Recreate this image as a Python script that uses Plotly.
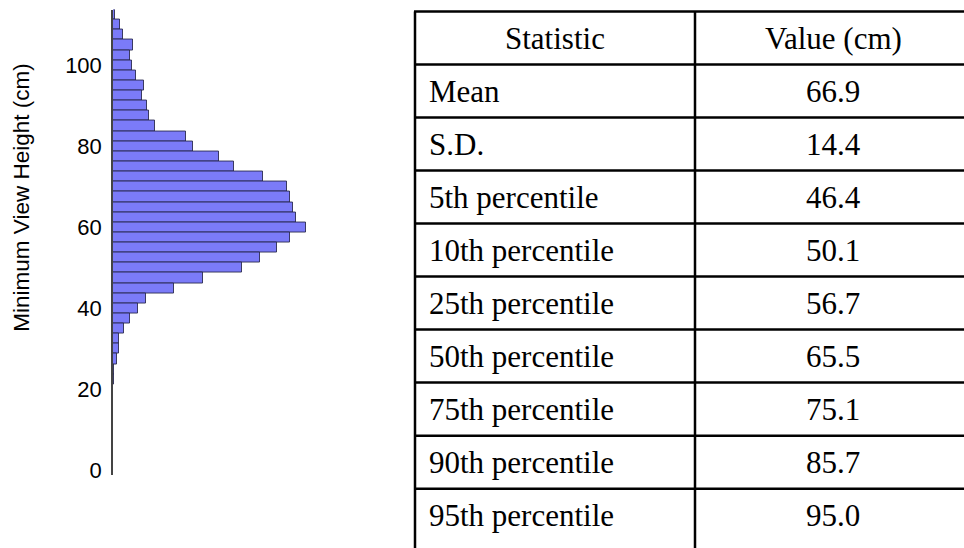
import plotly.graph_objects as go

# Histogram data (bins of 2.5 cm, centres) and bar lengths (relative counts)
bin_centers = [112.5, 110.0, 107.5, 105.0, 102.5, 100.0, 97.5, 95.0, 92.5, 90.0,
               87.5, 85.0, 82.5, 80.0, 77.5, 75.0, 72.5, 70.0, 67.5, 65.0,
               62.5, 60.0, 57.5, 55.0, 52.5, 50.0, 47.5, 45.0, 42.5, 40.0,
               37.5, 35.0, 32.5, 30.0, 27.5, 25.0, 22.5]
counts = [1.7, 7, 10, 20, 17.3, 19.3, 23.3, 31, 29, 34,
          36, 42.3, 73, 80, 106, 121, 150, 174, 176.7, 180,
          183.3, 192.7, 176.7, 164, 147.3, 129, 90.3, 60.7, 33, 25.3,
          17, 11, 6, 6, 4.3, 1, 1]
y_ticks = [0, 20, 40, 60, 80, 100]
y_title = "Minimum View Height (cm)"

# Summary table
table_header = ["Statistic", "Value (cm)"]
stat_names = ["Mean", "S.D.", "5th percentile", "10th percentile", "25th percentile",
              "50th percentile", "75th percentile", "90th percentile", "95th percentile"]
stat_values = ["66.9", "14.4", "46.4", "50.1", "56.7", "65.5", "75.1", "85.7", "95.0"]

W, H = 964, 548

fig = go.Figure()
fig.add_trace(go.Bar(
    y=bin_centers, x=counts, orientation="h", width=2.5,
    marker=dict(color="#7b7bf8", line=dict(color="rgba(35,35,70,0.85)", width=1)),
    hoverinfo="x+y", showlegend=False,
))

fig.update_layout(
    width=W, height=H,
    margin=dict(l=0, r=0, t=0, b=0),
    paper_bgcolor="white", plot_bgcolor="white",
    bargap=0,
    xaxis=dict(domain=[113 / W, 313 / W], range=[0, 200], visible=False),
    yaxis=dict(domain=[1 - 482.5 / H, 1 - 9.7 / H], range=[-1, 113.75],
               tickvals=y_ticks, ticks="", showgrid=False, zeroline=False,
               showline=True, linecolor="#444444", linewidth=1.5,
               ticklabelstandoff=5,
               tickfont=dict(family="Liberation Sans, Arial", size=22, color="black")),
    font=dict(family="Liberation Sans, Arial"),
)

# Axis title
fig.add_annotation(x=22 / W, y=1 - 201 / H, xref="paper", yref="paper",
                   text=y_title, textangle=-90, showarrow=False,
                   font=dict(family="Liberation Sans, Arial", size=22.5, color="black"),
                   xanchor="center", yanchor="middle")

# Table geometry (pixels)
tx0, tx1, tx2 = 415, 695, 975
row_top = 11.7
row_h = 53.9
n_rows = len(stat_names) + 1
lw = 2.5

def py(p):
    return 1 - p / H

def px(p):
    return p / W

# horizontal lines (table continues past the bottom edge, no closing line)
for i in range(n_rows):
    yy = row_top + i * row_h
    fig.add_shape(type="line", xref="paper", yref="paper",
                  x0=px(tx0 - 1), x1=px(tx2), y0=py(yy), y1=py(yy),
                  line=dict(color="black", width=lw))
# vertical lines
for xx in [tx0, tx1, tx2]:
    fig.add_shape(type="line", xref="paper", yref="paper",
                  x0=px(xx), x1=px(xx), y0=py(row_top), y1=py(H + 20),
                  line=dict(color="black", width=lw))

tfont = dict(family="Liberation Serif, Times New Roman", size=31, color="black")
# header
for j, txt in enumerate(table_header):
    cx = (tx0 + tx1) / 2 if j == 0 else (tx1 + tx2 - 4) / 2
    fig.add_annotation(x=px(cx), y=py(row_top + row_h / 2), xref="paper", yref="paper",
                       text=txt, showarrow=False, font=tfont,
                       xanchor="center", yanchor="middle")
for i, (name, val) in enumerate(zip(stat_names, stat_values)):
    cy = row_top + (i + 1.5) * row_h
    fig.add_annotation(x=px(tx0 + 12), y=py(cy), xref="paper", yref="paper",
                       text=name, showarrow=False, font=tfont,
                       xanchor="left", yanchor="middle")
    fig.add_annotation(x=px((tx1 + tx2 - 4) / 2), y=py(cy), xref="paper", yref="paper",
                       text=val, showarrow=False, font=tfont,
                       xanchor="center", yanchor="middle")

fig.write_html("out.html", config={"displayModeBar": False},
               post_script="document.body.style.margin='0';document.body.style.overflow='hidden';")
